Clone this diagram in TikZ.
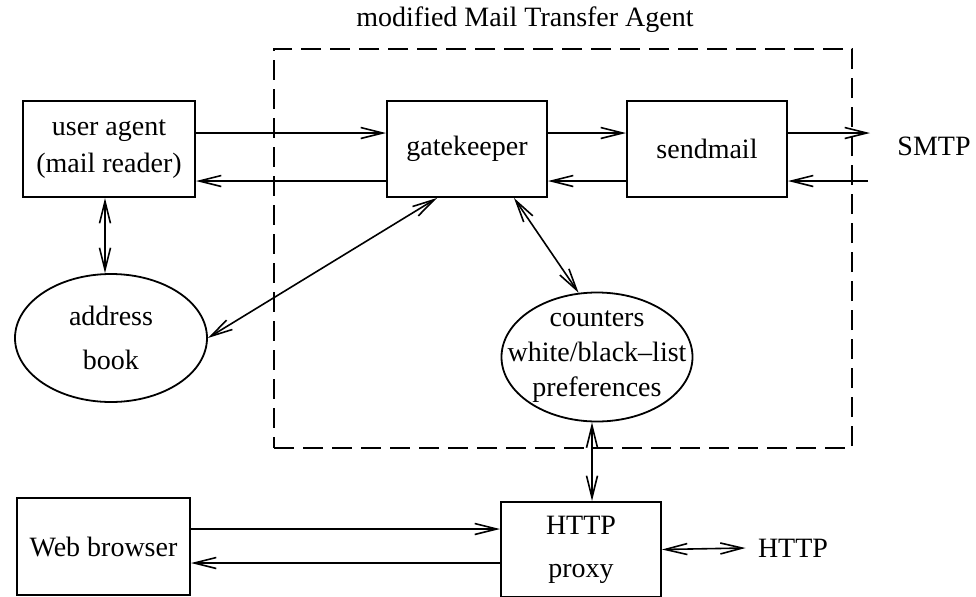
\documentclass[tikz,border=0pt]{standalone}
\usepackage{fontspec}
\setmainfont{Liberation Serif}
\usetikzlibrary{shapes.geometric,arrows.meta,positioning}

\begin{document}
\begin{tikzpicture}[x=0.5pt,y=-0.5pt,
  font=\fontsize{14}{18.5}\selectfont,
  box/.style={draw,line width=1pt,minimum width=80pt,minimum height=48pt,
              align=center,inner sep=0pt},
  oval/.style={draw,ellipse,line width=0.9pt,minimum width=96pt,
               minimum height=64pt,align=center,inner sep=0pt},
  frame/.style={draw,line width=0.9pt,dash pattern=on 10pt off 4.5pt,
                minimum width=289pt,minimum height=199.5pt},
  arr/.style={-{Straight Barb[length=11pt,width=5.5pt]},line width=0.8pt},
  arrs/.style={{Straight Barb[length=11pt,width=5.5pt]}-{Straight Barb[length=11pt,width=5.5pt]},
               line width=0.8pt},
  lbl/.style={inner sep=0pt}
]
\useasboundingbox (0,0) rectangle (976,596);
% the modified MTA frame and its title
\node[frame] (mta) at (563,248.5) {};
\node[lbl] (mtalbl) at (525,20) {modified Mail Transfer Agent};
% top row
\node[box,minimum width=86pt] (ua) at (109,149) {user agent\\(mail reader)};
\node[box] (gk) at (467,149) {gatekeeper};
\node[box] (sm) at (707,149) {sendmail};
\node[lbl] (smtp) at (934,146) {SMTP};
% stores
\node[oval] (ab) at (111,338) {address\\[3.5pt]book};
\node[oval,minimum width=95.5pt,minimum height=64.5pt,inner xsep=-14pt,inner ysep=-4pt]
  (ct) at (597,357) {counters\\[-1pt]white/black--list\\[-1pt]preferences};
% bottom row
\node[box,minimum width=86.5pt,minimum height=48.5pt] (wb) at (103.5,546.5) {Web browser};
\node[box,minimum height=47.5pt] (px) at (581,549.5) {HTTP\\[3pt]proxy};
\node[lbl] (http) at (793,548) {HTTP};

% mail path
\draw[arr] ([yshift=8pt]ua.east) -- ([yshift=8pt]gk.west);
\draw[arr] ([yshift=-16pt]gk.west) -- ([yshift=-16pt]ua.east);
\draw[arr] ([yshift=8pt]gk.east) -- ([yshift=8pt]sm.west);
\draw[arr] ([yshift=-16pt]sm.west) -- ([yshift=-16pt]gk.east);
\coordinate (smtpout) at (870,133);
\coordinate (smtpin) at (868,181);
\draw[arr] ([yshift=8pt]sm.east) -- (smtpout);
\draw[arr] (smtpin) -- ([yshift=-16pt]sm.east);

% lookups
\coordinate (uab) at ([xshift=-2pt]ua.south);
\draw[arrs] (uab) -- (uab |- ab.north);
\draw[arrs] ([xshift=-15pt]gk.south) -- (ab.east);
\draw[arrs] ([xshift=23.5pt]gk.south) -- (ct.106);
\coordinate (ctb) at ([xshift=-2.5pt]ct.south);
\draw[arrs] (ctb) -- (ctb |- px.north);

% web side
\coordinate (wbup) at ([yshift=8.75pt]wb.east);
\coordinate (wbdn) at ([yshift=-8.25pt]wb.east);
\draw[arr] (wbup) -- (wbup -| px.west);
\draw[arr] (wbdn -| px.west) -- (wbdn);
\draw[arrs] (px.east) -- ([xshift=-6pt]http.west);
\end{tikzpicture}
\end{document}
